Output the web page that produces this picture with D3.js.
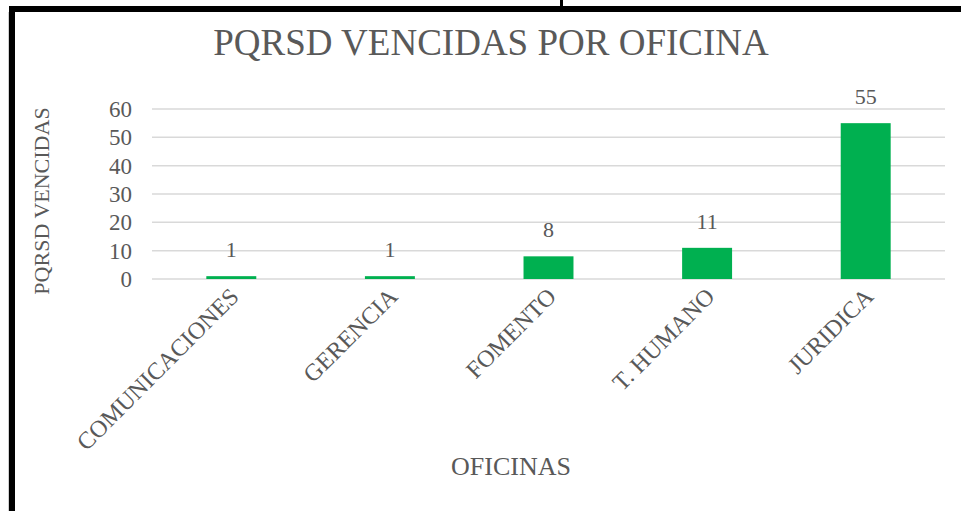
<!DOCTYPE html>
<html>
<head>
<meta charset="utf-8">
<script src="https://cdn.jsdelivr.net/npm/d3@7"></script>
<style>
  body { margin: 0; background: #fff; }
  svg text { font-family: "Liberation Serif", "Times New Roman", serif; fill: #595959; }
</style>
</head>
<body>
<div id="chart"></div>
<script>
const oficinas = ["COMUNICACIONES", "GERENCIA", "FOMENTO", "T. HUMANO", "JURIDICA"];
const vencidas = [1, 1, 8, 11, 55];
const yTicks = [0, 10, 20, 30, 40, 50, 60];

function drawChart() {
    const W = 961, H = 511;
    const margin = { top: 109, right: 16, bottom: 232, left: 152 };
    const width = W - margin.left - margin.right;
    const height = H - margin.top - margin.bottom;
    const serif = "Liberation Serif";

    const svg = d3.select("#chart").append("svg")
        .attr("width", W)
        .attr("height", H);

    // marco negro del recorte
    svg.append("rect").attr("x", 9).attr("y", 6).attr("width", W - 9).attr("height", 6).attr("fill", "#000");
    svg.append("rect").attr("x", 9).attr("y", 6).attr("width", 6).attr("height", H - 6).attr("fill", "#000");
    svg.append("rect").attr("x", 8).attr("y", 12).attr("width", 1).attr("height", H - 12).attr("fill", "#d0d0d0");
    svg.append("rect").attr("x", 560).attr("y", 0).attr("width", 3).attr("height", 6).attr("fill", "#000");

    const g = svg.append("g")
        .attr("transform", `translate(${margin.left}, ${margin.top})`);

    const x = d3.scaleBand()
        .domain(oficinas)
        .range([0, width])
        .paddingInner(0.685)
        .paddingOuter(0.3425);

    const y = d3.scaleLinear()
        .domain([0, 60])
        .range([height, 0]);

    // lineas de cuadricula
    g.append("g")
        .selectAll("line")
        .data(yTicks)
        .enter()
        .append("line")
        .attr("x1", 0)
        .attr("x2", width)
        .attr("y1", d => y(d))
        .attr("y2", d => y(d))
        .attr("stroke", "#d9d9d9")
        .attr("stroke-width", 1.5);

    const yAxis = g.append("g")
        .call(d3.axisLeft(y).tickValues(yTicks).tickSize(0).tickPadding(20));
    yAxis.select(".domain").remove();
    yAxis.selectAll("text")
        .style("font-size", "23px")
        .style("fill", "#595959")
        .style("font-family", serif);

    g.selectAll(".bar")
        .data(vencidas)
        .enter()
        .append("rect")
        .attr("class", "bar")
        .attr("x", (d, i) => x(oficinas[i]))
        .attr("y", d => y(d))
        .attr("width", x.bandwidth())
        .attr("height", d => height - y(d))
        .attr("fill", "#00b050");

    g.selectAll(".lbl")
        .data(vencidas)
        .enter()
        .append("text")
        .attr("class", "lbl")
        .attr("x", (d, i) => x(oficinas[i]) + x.bandwidth() / 2)
        .attr("y", d => y(d) - 19)
        .attr("text-anchor", "middle")
        .style("font-size", "22px")
        .style("font-family", serif)
        .text(d => d);

    const xAxis = g.append("g")
        .attr("transform", `translate(0, ${height})`)
        .call(d3.axisBottom(x).tickSize(0).tickPadding(0));
    xAxis.select(".domain").remove();
    xAxis.selectAll("text")
        .attr("transform", "translate(9, 19) rotate(-45)")
        .attr("dy", "0")
        .attr("y", 0)
        .style("text-anchor", "end")
        .style("font-size", "24px")
        .style("fill", "#595959")
        .style("font-family", serif);

    svg.append("text")
        .attr("x", 491)
        .attr("y", 55)
        .attr("text-anchor", "middle")
        .style("font-size", "37px")
        .style("font-family", serif)
        .text("PQRSD VENCIDAS POR OFICINA");

    svg.append("text")
        .attr("x", 511)
        .attr("y", 475)
        .attr("text-anchor", "middle")
        .style("font-size", "26px")
        .style("font-family", serif)
        .text("OFICINAS");

    svg.append("text")
        .attr("transform", "translate(49, 201) rotate(-90)")
        .attr("text-anchor", "middle")
        .style("font-size", "22px")
        .style("font-family", serif)
        .text("PQRSD VENCIDAS");
}

drawChart();
</script>
</body>
</html>
